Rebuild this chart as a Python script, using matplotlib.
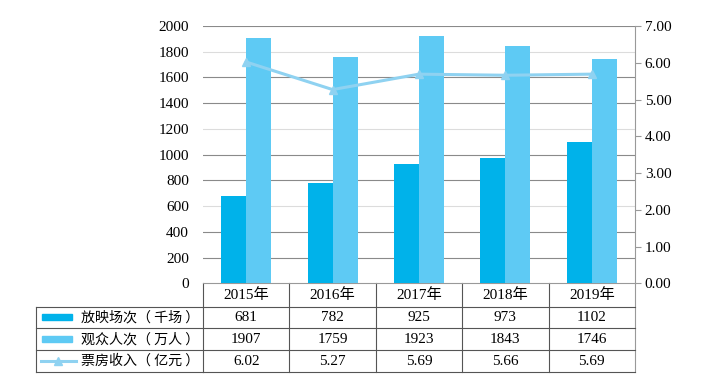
import matplotlib
matplotlib.use('Agg')
import matplotlib.pyplot as plt
import matplotlib.transforms as mtransforms
from matplotlib.patches import Rectangle
import numpy as np

years = ['2015年', '2016年', '2017年', '2018年', '2019年']
screenings = [681, 782, 925, 973, 1102]      # 放映场次（千场）
audience = [1907, 1759, 1923, 1843, 1746]    # 观众人次（万人）
box_office = [6.02, 5.27, 5.69, 5.66, 5.69]  # 票房收入（亿元）
box_office_txt = ['6.02', '5.27', '5.69', '5.66', '5.69']
row_labels = ['放映场次（ 千场 ）', '观众人次（ 万人 ）', '票房收入（ 亿元 ）']

DARK = '#00b2ea'
LIGHT = '#5ecaf4'
LINE = '#8fd2f1'
GRID_DARK = '#8a8a8a'
GRID_LIGHT = '#dcdcdc'
TABLE = '#555555'

plt.rcParams['font.family'] = ['Liberation Serif', 'Noto Sans CJK SC']
plt.rcParams['font.size'] = 11

fig = plt.figure(figsize=(7.06, 3.81), dpi=100)
ax = fig.add_axes([203 / 706, 97.7 / 381, 432 / 706, 257.3 / 381])
ax2 = ax.twinx()

x = np.arange(len(years))
w = 0.29
ax.bar(x - w / 2, screenings, w, color=DARK, zorder=3)
ax.bar(x + w / 2, audience, w, color=LIGHT, zorder=3)

ax.set_xlim(-0.5, len(years) - 0.5)
ax.set_ylim(0, 2000)
ax.set_yticks(range(0, 2001, 200))
ax.set_xticks([])
ax.tick_params(axis='y', length=0, pad=10)
for s in ['top', 'left', 'right']:
    ax.spines[s].set_visible(False)
ax.spines['bottom'].set_color('#999999')
ax.spines['bottom'].set_linewidth(0.8)

# gridlines (scan shows some lighter than others)
light_vals = {600, 1200, 1800}
for v in range(200, 2001, 200):
    ax.axhline(v, color=GRID_LIGHT if v in light_vals else GRID_DARK,
               lw=0.8, zorder=1)

ax2.plot(x, box_office, color=LINE, lw=2.2, marker='^', markersize=6, zorder=4)
ax2.set_ylim(0, 7)
ax2.set_yticks(np.arange(0, 7.01, 1))
ax2.set_yticklabels([f'{v:.2f}' for v in np.arange(0, 7.01, 1)])
ax2.tick_params(axis='y', length=4, width=0.8, color='#999999', pad=3)
for s in ['top', 'left', 'bottom']:
    ax2.spines[s].set_visible(False)
ax2.spines['right'].set_color('#999999')
ax2.spines['right'].set_linewidth(0.8)

# data table below the axes
trans = mtransforms.blended_transform_factory(ax.transData, ax.transAxes)
row_y = [0, -0.0909, -0.1749, -0.2592, -0.3459]
left = -0.3866

for b in np.arange(-0.5, len(years), 1.0):
    col = '#999999' if b == len(years) - 0.5 else TABLE
    ax.plot([b, b], [0, row_y[-1]], color=col, lw=0.8,
            transform=trans, clip_on=False)
ax.plot([left, left], [row_y[1], row_y[-1]], color=TABLE, lw=0.8,
        transform=ax.transAxes, clip_on=False)
for yv in row_y[1:]:
    ax.plot([left, 0], [yv, yv], color=TABLE, lw=0.8,
            transform=ax.transAxes, clip_on=False)
    ax.plot([-0.5, len(years) - 0.5], [yv, yv], color=TABLE, lw=0.8,
            transform=trans, clip_on=False)

centers = [(row_y[i] + row_y[i + 1]) / 2 for i in range(4)]
for i, yr in enumerate(years):
    ax.text(i, centers[0], yr, ha='center', va='center', transform=trans)
    ax.text(i, centers[1], str(screenings[i]), ha='center', va='center', transform=trans)
    ax.text(i, centers[2], str(audience[i]), ha='center', va='center', transform=trans)
    ax.text(i, centers[3], box_office_txt[i], ha='center', va='center', transform=trans)

for lab, cy in zip(row_labels, centers[1:]):
    ax.text(-0.2824, cy, lab, ha='left', va='center', fontsize=10.1,
            family=['Noto Sans CJK SC'], transform=ax.transAxes)

kx0, kw = -0.3727, 0.0694
kh = 0.0233
ax.add_patch(Rectangle((kx0, centers[1] - kh / 2), kw, kh, color=DARK,
                       transform=ax.transAxes, clip_on=False))
ax.add_patch(Rectangle((kx0, centers[2] - kh / 2), kw, kh, color=LIGHT,
                       transform=ax.transAxes, clip_on=False))
ax.plot([kx0 - 0.002, kx0 + 0.078], [centers[3], centers[3]], color=LINE, lw=2.2,
        transform=ax.transAxes, clip_on=False)
ax.plot([kx0 + 0.038], [centers[3]], color=LINE, marker='^', markersize=6,
        transform=ax.transAxes, clip_on=False)

fig.savefig('out.png', dpi=100)
